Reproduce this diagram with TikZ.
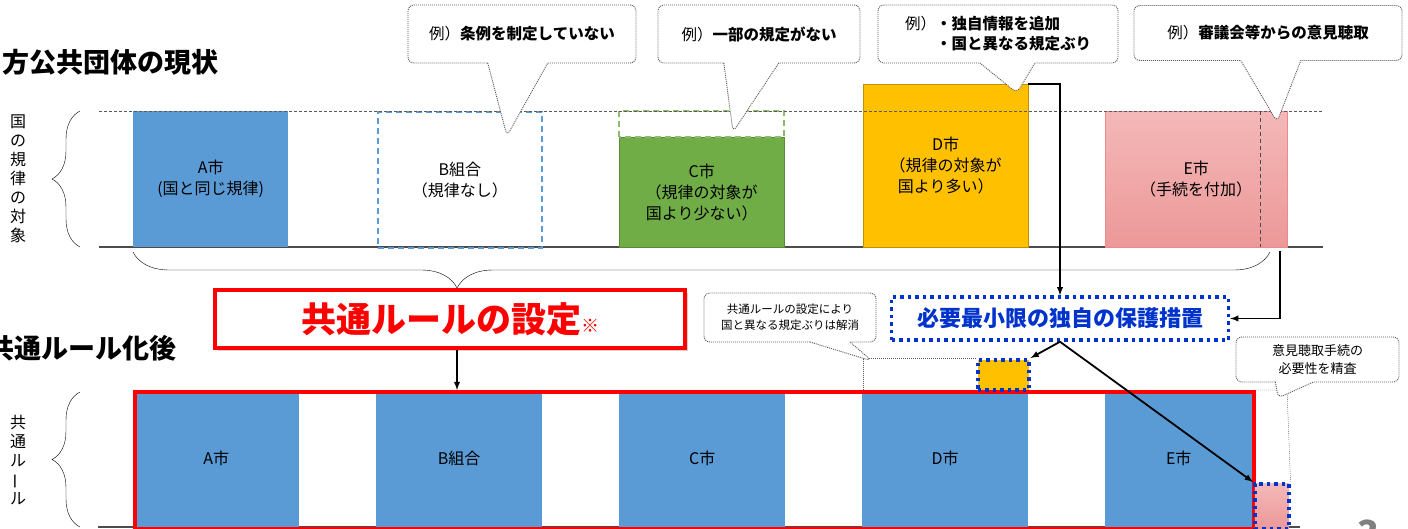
\documentclass[tikz,border=0pt]{standalone}
\usepackage{fontspec}
\setmainfont{Noto Sans CJK JP}
\usetikzlibrary{positioning,shapes,arrows,decorations.pathreplacing,shadows}
\definecolor{cblue}{RGB}{91,155,213}
\definecolor{cgreen}{RGB}{112,173,71}
\definecolor{cgold}{RGB}{255,192,0}
\definecolor{cpinkt}{RGB}{244,184,184}
\definecolor{cpinkb}{RGB}{236,152,152}
\definecolor{cred}{RGB}{255,0,0}
\definecolor{cnavy}{RGB}{0,51,204}

\begin{document}
\begin{tikzpicture}[x=1pt,y=-1pt,
	box/.style={rectangle,inner sep=0pt,anchor=north west,font=\fontsize{16}{21}\selectfont,align=center},
	note/.style={rectangle callout,draw=gray!70!black,line width=0.9pt,dash pattern=on 1pt off 1pt,fill=white,rounded corners=6pt,inner sep=0pt,align=center,font=\fontsize{15.5}{20}\selectfont},
	guard/.style={draw=cnavy,line width=3.5pt,dash pattern=on 3.5pt off 4pt,inner sep=0pt},
	title/.style={anchor=west,inner sep=0pt,font=\fontsize{27}{30}\selectfont\bfseries},
	side/.style={align=center,inner sep=0pt,font=\fontsize{16}{19}\selectfont},
	arr/.style={-latex,line width=1.8pt},
	curly/.style={decorate,decoration={brace,amplitude=#1}}]
	\useasboundingbox (0,0) rectangle (1408,529);

	\node[title] (now) at (2,62) {方公共団体の現状};
	\node[title] (after) at (-13,348) {共通ルール化後};
	\node[side] (axis1) at (18,179) {国\\の\\規\\律\\の\\対\\象};
	\node[side] (axis2) at (18,460) {共\\通\\ル\\\rotatebox[origin=c]{90}{ー}\\ル};
	\draw[curly=28] (80,247) -- (80,111);
	\draw[curly=28] (80,527) -- (80,392);

	\draw[gray!60!black,line width=1.2pt] (99,247) -- (1323,247);
	\node[box,fill=cblue,minimum width=155,minimum height=136] (Atop) at (133,111) {A市\\(国と同じ規律)};
	\node[box,draw=cblue,dash pattern=on 6pt off 4pt,line width=1.6pt,minimum width=164,minimum height=136] (Btop) at (377,111) {B組合\\（規律なし）};
	\node[box,fill=cgreen,draw=cgreen!80!black,minimum width=165,minimum height=110] (Ctop) at (619,137) {C市\\（規律の対象が\\国より少ない）};
	\draw[cgreen!80,dash pattern=on 6pt off 4pt,line width=1.4pt] (Ctop.north west) rectangle ++(165,-26);
	\node[box,fill=cgold,draw=cgold!75!black,minimum width=165,minimum height=163] (Dtop) at (863,84) {D市\\（規律の対象が\\国より多い）};
	\node[box,top color=cpinkt,bottom color=cpinkb,draw=cpinkb!90!red,minimum width=182,minimum height=136] (Etop) at (1105,111) {E市\\（手続を付加）};
	\draw[gray!60!black,dash pattern=on 4pt off 3pt] (1260,111) -- (1260,247);
	\draw[gray!70!black,dash pattern=on 3pt off 2pt] (99,111) -- (1323,111);
	\draw[decorate,decoration={brace,amplitude=36,aspect=0.715}] (1270,252) -- (133,252);
	\coordinate (tip) at (457,290);
	\coordinate (eend) at (1280,251);

	\node[draw=cred,line width=4pt,fill=white,minimum width=470,minimum height=58,inner sep=0pt,
		drop shadow={shadow xshift=3pt,shadow yshift=-3pt,opacity=0.35}] (rule) at (450,319)
		{\textcolor{cred}{\fontsize{35}{40}\selectfont\bfseries 共通ルールの設定}\textcolor{cred}{\fontsize{18}{20}\selectfont ※}};
	\node[guard,fill=white,minimum width=337,minimum height=43,text=cnavy,font=\fontsize{22}{24}\selectfont\bfseries] (protect) at (1060,318.5) {必要最小限の独自の保護措置};

	\draw[gray!60!black,line width=1.2pt] (98,527) -- (1300,527);
	\foreach \x/\w/\t [count=\i] in {133/166/A市,376/166/B組合,619/166/C市,862/166/D市,1105/147/E市}
		\node[box,fill=cblue,minimum width=\w,minimum height=137] (low\i) at (\x,390) {\t};
	\node[box,draw=cred,line width=4pt,minimum width=1119,minimum height=137] (common) at (133,390) {};
	\node[guard,fill=cgold,anchor=north west,minimum width=51,minimum height=30] (dplus) at (976,358) {};
	\node[guard,top color=cpinkt,bottom color=cpinkb,anchor=north west,minimum width=34,minimum height=45] (eplus) at (1253,482) {};
	\draw[gray!70!black,dash pattern=on 1pt off 1pt] (863,390) -- (863,358) -- (dplus.north west);
	\draw[gray!70!black,dash pattern=on 1pt off 1pt] (common.north east) -- (1287,390) -- (eplus.north east);

	\node[note,minimum width=228,minimum height=58,callout absolute pointer={(507,136)},callout pointer width=60] (n1) at (522,34) {例）\textbf{条例を制定していない}};
	\node[note,minimum width=202,minimum height=58,callout absolute pointer={(733,132)},callout pointer width=55] (n2) at (759,34) {例）\textbf{一部の規定がない}};
	\node[note,minimum width=240,minimum height=58,align=left,callout absolute pointer={(1017,93)},callout pointer width=55] (n3) at (998,34) {例）\textbf{・独自情報を追加}\\\phantom{例）}\textbf{・国と異なる規定ぶり}};
	\node[note,minimum width=268,minimum height=55,callout absolute pointer={(1277,122)},callout pointer width=60] (n4) at (1268,33) {例）\textbf{審議会等からの意見聴取}};
	\node[note,minimum width=172,minimum height=49,font=\fontsize{11.5}{16}\selectfont,callout absolute pointer={(872,361)},callout pointer width=40] (n5) at (790,317.5) {共通ルールの設定により\\国と異なる規定ぶりは解消};
	\node[note,minimum width=163,minimum height=45,font=\fontsize{13}{18}\selectfont,callout absolute pointer={(1278,398)},callout pointer width=38] (n6) at (1317.5,359.5) {意見聴取手続の\\必要性を精査};

	\draw[arr] (tip |- rule.south) -- (tip |- common.north);
	\draw[arr] (Dtop.north east) -| (protect.north);
	\draw[arr] (eend) |- (protect.east);
	\draw[arr] (protect.south) -- (dplus.north east);
	\draw[arr] (protect.south) -- (eplus.north west);
	\node[anchor=base,text=gray,font=\fontsize{36}{40}\selectfont\bfseries] (page) at (1368,546) {3};
\end{tikzpicture}
\end{document}
